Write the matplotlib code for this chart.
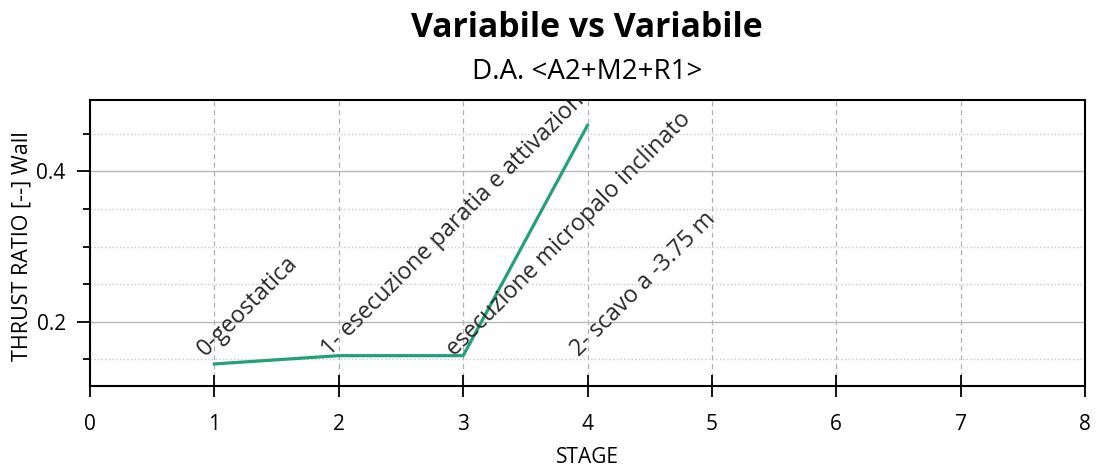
import matplotlib as mpl
mpl.use('Agg')
import matplotlib.pyplot as plt
from matplotlib.ticker import MultipleLocator

plt.rcParams['font.family'] = ['Open Sans', 'DejaVu Sans']

stages = [1, 2, 3, 4]
thrust_ratio = [0.144, 0.155, 0.155, 0.461]
stage_labels = ['0-geostatica',
                '1- esecuzione paratia e attivazione tiranti',
                'esecuzione micropalo inclinato',
                '2- scavo a -3.75 m']
label_y = 0.153

fig = plt.figure(figsize=(1097 / 100, 468 / 100), dpi=100)
ax = fig.add_axes([90 / 1097, 82 / 468, 995 / 1097, 286 / 468])

ax.plot(stages, thrust_ratio, color='#23a07a', linewidth=2.3, zorder=3)

for x, txt in zip(stages, stage_labels):
    ax.text(x - 0.07, label_y, txt, rotation=45, rotation_mode='anchor',
            ha='left', va='baseline', fontsize=16.8, color='#2a2a2a',
            clip_on=True, zorder=4)

ax.set_xlim(0, 8)
ax.set_ylim(0.1147, 0.4947)
ax.xaxis.set_major_locator(MultipleLocator(1))
ax.yaxis.set_major_locator(MultipleLocator(0.2))
ax.yaxis.set_minor_locator(MultipleLocator(0.05))
ax.yaxis.set_major_formatter(mpl.ticker.FuncFormatter(lambda v, p: '{0:.1f}'.format(v)))

ax.grid(axis='x', which='major', color='#b0b0b0', linestyle=(0, (4, 3)), linewidth=0.9)
ax.grid(axis='y', which='major', color='#b8b8b8', linestyle='-', linewidth=1.0)
ax.grid(axis='y', which='minor', color='#c8c8c8', linestyle=':', linewidth=1.0)

ax.tick_params(axis='x', which='major', direction='inout', length=16, width=1.3,
               labelsize=15, pad=12)
ax.tick_params(axis='y', which='major', direction='out', length=9.5, width=1.3,
               labelsize=15, pad=8)
ax.tick_params(axis='y', which='minor', direction='out', length=5, width=1.3)
for s in ax.spines.values():
    s.set_linewidth(1.5)

ax.set_xlabel('STAGE', fontsize=15, labelpad=9)
ax.set_ylabel('THRUST RATIO [--] Wall', fontsize=15.5)
ax.yaxis.set_label_coords(-57 / 995, 0.49)

fig.text(0.535, 0.94, 'Variabile vs Variabile', ha='center', va='center',
         fontsize=24.3, fontweight='bold')
fig.text(0.535, 0.846, 'D.A. <A2+M2+R1>', ha='center', va='center', fontsize=20)

fig.savefig('out.png', dpi=100)
